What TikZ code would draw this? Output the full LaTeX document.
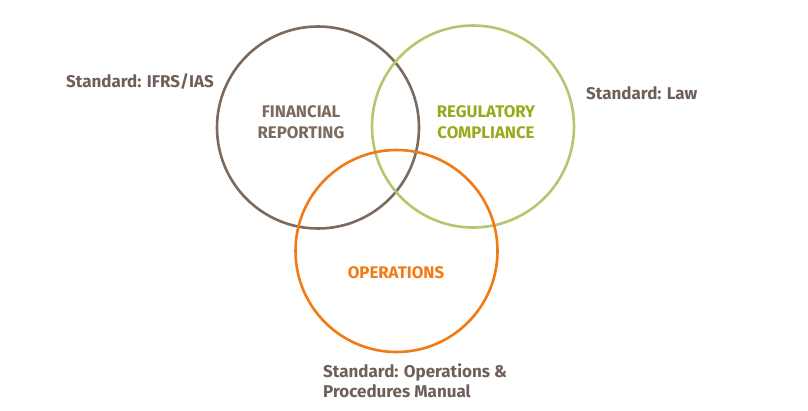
\documentclass[tikz,border=0pt]{standalone}
\usepackage{fontspec}
\setmainfont{Fira Sans}
\definecolor{cbrown}{HTML}{7A6A5F}
\definecolor{cgreen}{HTML}{B8C46E}
\definecolor{tgreen}{HTML}{9AA81C}
\definecolor{corange}{HTML}{F27A12}
\definecolor{tbrown}{HTML}{6E6058}
\begin{document}
\begin{tikzpicture}[x=1pt,y=-1pt,
  ring/.style={circle,draw,line width=2.6pt,minimum size=202pt,inner sep=0pt},
  intext/.style={font=\bfseries\fontsize{16.8}{21}\selectfont,align=center,inner sep=0pt},
  std/.style={font=\bfseries\fontsize{17}{20}\selectfont,text=tbrown,align=left,inner sep=0pt}]
\useasboundingbox (0,0) rectangle (808,410);
\node[ring,draw=cbrown] (fin) at (318,127.5) {};
\node[ring,draw=cgreen] (reg) at (473,126.5) {};
\node[ring,draw=corange] (ops) at (396.5,251) {};
\node[intext,text=cbrown] (fint) at (301,122.5) {FINANCIAL\\REPORTING};
\node[intext,text=tgreen] (regt) at (486,122.5) {REGULATORY\\COMPLIANCE};
\node[intext,text=corange] (opst) at (396,272.5) {OPERATIONS};
\node[std,anchor=west] (s1) at (66,82) {Standard: IFRS/IAS};
\node[std,anchor=west] (s2) at (586,93) {Standard: Law};
\node[std,anchor=north west] (s3) at (323,364) {Standard: Operations \&\\Procedures Manual};
\end{tikzpicture}
\end{document}
